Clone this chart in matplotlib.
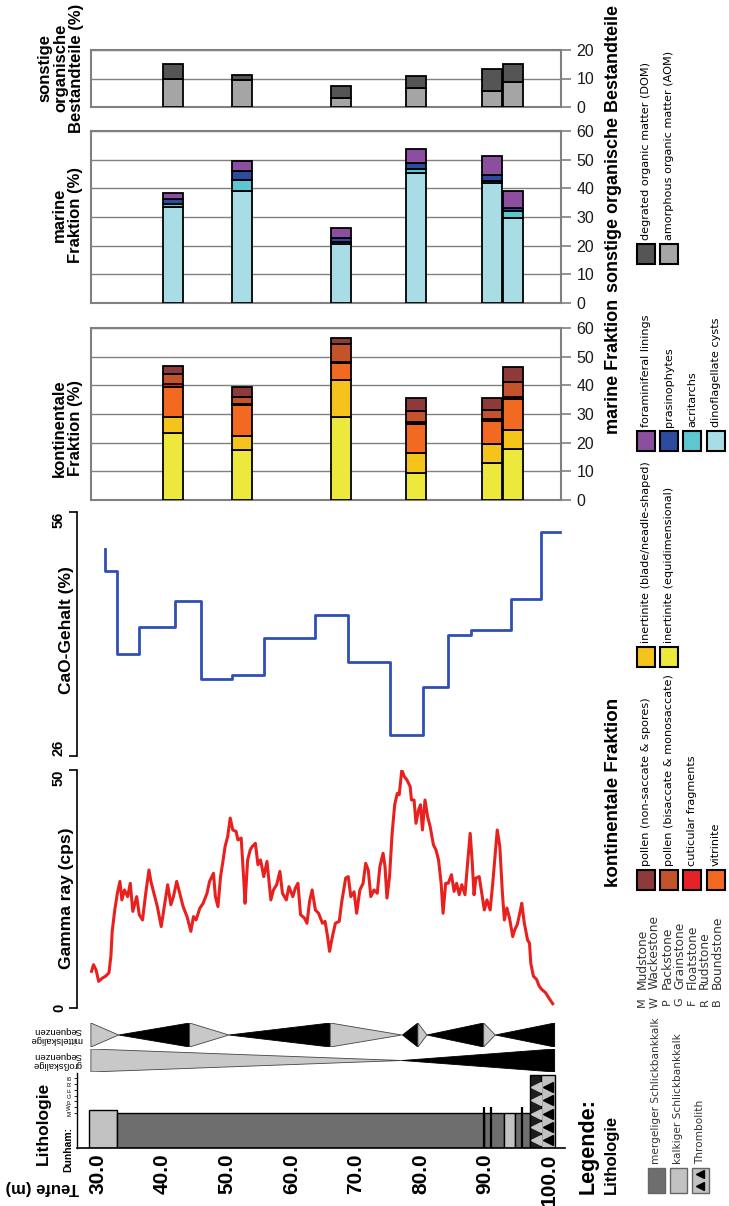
import matplotlib
matplotlib.use('Agg')
import matplotlib.pyplot as plt
import numpy as np
from matplotlib.patches import Rectangle, Polygon

# ---------------- data ----------------
sample_depth = [41.6, 52.3, 67.6, 79.3, 91.1, 94.4]

kont_names = ['inertinite (equidimensional)', 'inertinite (blade/neadle-shaped)', 'vitrinite',
              'cuticular fragments', 'pollen (bisaccate & monosaccate)', 'pollen (non-saccate & spores)']
inert_equi  = [23.3, 17.5, 29.1, 9.5, 12.8, 17.7]
inert_blade = [5.8, 5.0, 12.8, 7.0, 6.6, 6.7]
vitrinite   = [10.2, 10.5, 5.8, 10.0, 8.2, 10.8]
cuticular   = [1.0, 0.5, 0.6, 0.7, 0.6, 0.6]
pollen_bis  = [3.8, 2.6, 6.0, 3.8, 3.2, 5.5]
pollen_non  = [2.7, 3.2, 2.1, 4.5, 4.1, 5.0]

marine_names = ['dinoflagellate cysts', 'acritarchs', 'prasinophytes', 'foraminiferal linings']
dino    = [33.4, 39.2, 20.5, 45.2, 41.8, 29.8]
acrit   = [1.0, 3.7, 0.7, 1.5, 0.9, 2.2]
prasino = [1.8, 3.3, 1.6, 2.3, 2.0, 1.1]
foram   = [2.1, 3.5, 3.5, 4.7, 6.7, 5.8]

other_names = ['amorphous organic matter (AOM)', 'degrated organic matter (DOM)']
aom = [10.0, 9.4, 3.2, 6.7, 5.6, 8.7]
dom = [5.1, 1.9, 4.1, 4.1, 7.6, 6.4]

cao_depth = [31.06, 31.06, 33.0, 36.3, 42.0, 46.0, 50.8, 55.7, 63.7, 68.8, 75.2, 80.4, 84.2, 87.8, 94.0, 98.7, 101.6]
cao_value = [51.4, 48.7, 38.5, 41.8, 45.1, 35.5, 36.0, 40.5, 43.3, 37.6, 28.6, 34.5, 40.9, 41.5, 45.3, 53.6, 53.6]

gamma_depth = [29.0, 29.3, 29.7, 30.1, 30.7, 31.2, 31.7, 32.0, 32.2, 32.6, 33.0, 33.4, 33.7, 34.1, 34.6, 35.0,
               35.4, 36.0, 36.4, 36.9, 37.4, 37.9, 38.2, 38.8, 39.2, 39.8, 40.2, 40.8, 41.3, 41.7, 42.2, 42.8,
               43.2, 43.8, 44.4, 44.8, 45.2, 45.8, 46.3, 46.9, 47.3, 47.9, 48.2, 48.6, 49.0, 49.4, 49.7, 50.1,
               50.5, 50.9, 51.4, 51.7, 52.2, 52.6, 52.8, 53.2, 53.6, 53.9, 54.4, 54.8, 55.2, 55.7, 56.2, 56.8,
               57.2, 57.7, 58.2, 58.6, 59.2, 59.6, 60.2, 60.6, 61.0, 61.4, 62.0, 62.4, 62.8, 63.2, 63.7, 64.2,
               64.8, 65.2, 65.6, 65.9, 66.3, 66.8, 67.4, 67.8, 68.4, 68.8, 69.2, 69.7, 70.1, 70.6, 71.1, 71.5,
               71.9, 72.3, 72.8, 73.3, 73.7, 74.2, 74.5, 74.8, 75.2, 75.6, 76.0, 76.4, 76.7, 77.1, 77.5, 77.9,
               78.4, 78.6, 79.0, 79.3, 79.7, 80.0, 80.3, 80.7, 81.1, 81.5, 82.0, 82.4, 82.8, 83.2, 83.5, 83.9,
               84.3, 84.8, 85.2, 85.6, 86.0, 86.4, 86.9, 87.3, 87.7, 88.0, 88.3, 88.6, 89.1, 89.5, 89.9, 90.3,
               90.8, 91.2, 91.5, 91.9, 92.3, 92.7, 93.0, 93.4, 93.8, 94.3, 94.6, 95.0, 95.5, 95.7, 96.1, 96.6,
               96.9, 97.1, 97.5, 98.0, 98.4, 98.8, 99.4, 99.9, 100.5]
gamma_cps = [7.7, 9.1, 8.0, 5.6, 6.3, 6.7, 7.4, 10.9, 16.1, 20.6, 24.1, 26.6, 22.7, 24.8, 23.4, 26.2,
             20.3, 23.4, 19.6, 18.5, 24.1, 29.0, 26.6, 23.4, 21.3, 17.1, 20.6, 25.9, 21.7, 23.4, 26.6, 23.4,
             21.3, 19.2, 16.1, 19.2, 18.5, 21.0, 22.0, 24.1, 26.6, 28.3, 23.4, 21.3, 27.6, 31.1, 33.9, 36.0,
             39.9, 37.4, 37.1, 35.3, 35.7, 26.9, 22.0, 31.1, 33.2, 33.9, 34.6, 30.1, 31.1, 27.6, 30.8, 22.7,
             24.8, 25.9, 28.7, 24.1, 22.7, 25.5, 23.4, 25.2, 26.2, 19.6, 18.9, 17.8, 22.4, 24.8, 20.6, 19.9,
             17.8, 18.2, 15.0, 11.9, 14.7, 17.8, 18.2, 22.4, 27.3, 27.6, 23.4, 24.4, 19.9, 24.8, 26.2, 30.4,
             29.0, 23.4, 24.8, 24.1, 29.7, 32.5, 29.7, 23.1, 27.6, 36.7, 42.7, 45.1, 44.8, 50.0, 48.6, 47.9,
             46.5, 43.7, 43.7, 38.8, 41.6, 42.7, 37.4, 43.7, 40.2, 38.1, 34.3, 33.2, 31.1, 26.2, 19.9, 26.2,
             26.2, 28.0, 24.5, 26.2, 23.8, 25.9, 23.8, 30.4, 36.7, 31.1, 23.8, 27.3, 27.6, 24.1, 20.6, 22.7,
             20.6, 26.2, 31.1, 37.4, 33.9, 24.1, 18.5, 21.0, 18.9, 15.0, 16.4, 17.5, 20.6, 22.0, 17.8, 14.3,
             13.6, 9.4, 6.7, 6.0, 4.6, 3.9, 3.2, 2.1, 0.9]

# lithology beds (top depth, base depth, type, Dunham texture level)
bed_top = [28.6, 33.0, 89.8, 92.9, 94.7, 97.0, 98.7]
bed_base = [33.0, 89.8, 92.9, 94.7, 97.0, 98.7, 100.8]
bed_type = ['kalkig', 'mergelig', 'mergelig', 'kalkig', 'mergelig', 'thrombolith_d', 'thrombolith']
bed_level = [6.6, 6.0, 6.0, 6.0, 6.0, 12.5, 12.5]
thin_bed_depth = [89.8, 90.9, 95.7]
thin_bed_level = 7.0
dunham_codes = ['M', 'W', 'P', 'G', 'F', 'R', 'B']
dunham_names = ['Mudstone', 'Wackestone', 'Packstone', 'Grainstone', 'Floatstone', 'Rudstone', 'Boundstone']

# sequences: (depth of full side, depth of apex, colour)
seq_mid_full = [28.9, 44.2, 44.2, 66.0, 66.0, 79.6, 79.6, 89.8, 89.8, 100.8]
seq_mid_apex = [33.2, 33.2, 50.3, 50.3, 77.1, 77.2, 81.0, 81.0, 91.6, 91.6]
seq_mid_col = ['light', 'dark', 'light', 'dark', 'light', 'dark', 'light', 'dark', 'light', 'dark']
seq_big_full = [28.9, 100.8]
seq_big_apex = [77.1, 77.1]
seq_big_col = ['light', 'dark']

depth_ticks = [30, 40, 50, 60, 70, 80, 90, 100]

# ---------------- styling ----------------
kont_colors = ['#ECE83C', '#F4C41C', '#F26A22', '#E62229', '#C4532B', '#8E3A3A']
marine_colors = ['#A9DDE5', '#5EC6D0', '#2D4C9F', '#8C4E9F']
other_colors = ['#A5A5A5', '#555555']
lith_colors = {'mergelig': '#6E6E6E', 'kalkig': '#C2C2C2', 'thrombolith': '#C2C2C2', 'thrombolith_d': '#1E1E1E'}
seq_colors = {'light': '#C8C8C8', 'dark': '#000000'}

plt.rcParams['font.family'] = ['Liberation Sans', 'DejaVu Sans']
LEGFONT = ['DejaVu Sans']

W, H = 729, 1206
fig = plt.figure(figsize=(W / 100, H / 100), dpi=100)
PXM = 6.45


def d_at(px):
    return 30 + (px - 98) / PXM


def ax_px(x0, y0, x1, y1):
    return fig.add_axes([x0 / W, 1 - y1 / H, (x1 - x0) / W, (y1 - y0) / H])


def fx(x):
    return x / W


def fy(y):
    return 1 - y / H


BAR_W = 20 / PXM


def bar_panel(y0, y1, ymax, series, colors):
    ax = ax_px(91, y0, 561, y1)
    ax.set_xlim(d_at(91), d_at(561))
    ax.set_ylim(0, ymax)
    ax.set_yticks(range(0, ymax + 1, 10))
    ax.yaxis.tick_right()
    ax.tick_params(axis='y', direction='out', length=7, width=1.2, color='#808080',
                   labelsize=11.5, pad=4, labelcolor='#1a1a1a')
    ax.set_xticks([])
    for s in ax.spines.values():
        s.set_color('#808080')
        s.set_linewidth(1.5)
    ax.grid(axis='y', color='#808080', lw=1)
    ax.set_axisbelow(True)
    bottom = np.zeros(len(sample_depth))
    for vals, c in zip(series, colors):
        ax.bar(sample_depth, vals, width=BAR_W, bottom=bottom, color=c,
               edgecolor='black', linewidth=1.3, zorder=3)
        bottom += np.array(vals)
    return ax


bar_panel(50, 107, 20, [aom, dom], other_colors)
bar_panel(131, 303, 60, [dino, acrit, prasino, foram], marine_colors)
bar_panel(328, 500, 60, [inert_equi, inert_blade, vitrinite, cuticular, pollen_bis, pollen_non], kont_colors)

XL = (d_at(77), d_at(565))


def curve_axes(y0, y1, ylim, ticks, valign):
    ax = ax_px(77, y0, 565, y1)
    ax.set_xlim(*XL)
    ax.set_ylim(*ylim)
    ax.patch.set_alpha(0)
    for k in ['top', 'right', 'bottom']:
        ax.spines[k].set_visible(False)
    ax.spines['left'].set_linewidth(1.2)
    ax.set_xticks([])
    ax.set_yticks(ticks)
    labs = ax.set_yticklabels([str(t) for t in ticks], rotation=90,
                              fontsize=10.5, fontweight='bold')
    for lab, va in zip(labs, valign):
        lab.set_va(va)
    ax.tick_params(axis='y', direction='out', length=6, width=1.2, pad=2)
    return ax


ax_cao = curve_axes(512, 756, (26, 56), [26, 56], ['bottom', 'top'])
ax_cao.plot(cao_depth, cao_value, drawstyle='steps-post', color='#2F50B2', lw=2.0)

ax_gr = curve_axes(770, 1008, (0, 50), [0, 50], ['center', 'top'])
ax_gr.plot(gamma_depth, gamma_cps, color='#E8211F', lw=2.2)

# sequences
for (y0, y1, full, apex, col) in [(1023, 1047, seq_mid_full, seq_mid_apex, seq_mid_col),
                                  (1049, 1072, seq_big_full, seq_big_apex, seq_big_col)]:
    ax = ax_px(77, y0, 565, y1)
    ax.set_xlim(*XL)
    ax.set_ylim(-1, 1)
    ax.axis('off')
    for f, a, c in zip(full, apex, col):
        ax.add_patch(Polygon([(f, -1), (f, 1), (a, 0)], closed=True, facecolor=seq_colors[c],
                             edgecolor='#444444' if c == 'light' else 'black', lw=0.6))

# lithology
ax_l = ax_px(77, 1073, 565, 1148)
ax_l.set_xlim(*XL)
ax_l.set_ylim(0, 12.9)
ax_l.patch.set_alpha(0)
for k in ['top', 'right']:
    ax_l.spines[k].set_visible(False)
ax_l.spines['left'].set_linewidth(1.0)
ax_l.spines['bottom'].set_linewidth(1.2)
widths = [b - t for t, b in zip(bed_top, bed_base)]
ax_l.bar(bed_top, bed_level, width=widths, align='edge',
         color=[lith_colors[t] for t in bed_type], edgecolor='black', linewidth=1.0)
ax_l.vlines(thin_bed_depth, 0, thin_bed_level, color='black', lw=1.6)
for t, b, ty, lv in zip(bed_top, bed_base, bed_type, bed_level):
    if ty.startswith('thrombolith'):
        mc = '#C8C8C8' if ty == 'thrombolith_d' else 'black'
        rows = np.arange(1.3, lv - 0.5, 2.3)
        ax_l.plot([(t + b) / 2] * len(rows), rows, ls='none', marker='<', ms=6.5, color=mc)
ax_l.set_yticks(range(6, 13))
ax_l.set_yticklabels(dunham_codes, rotation=90, va='center', fontsize=4.5)
ax_l.tick_params(axis='y', direction='out', length=2.5, width=0.6, pad=1)
ax_l.set_xticks(depth_ticks)
ax_l.set_xticklabels([f'{d:.1f}' for d in depth_ticks], rotation=90, fontsize=15, fontweight='bold')
ax_l.tick_params(axis='x', length=0, pad=4)

# axis titles
fig.text(fx(61), fy(68), 'sonstige\norganische\nBestandteile (%)', rotation=90, ha='center', va='center',
         fontsize=12, fontweight='bold', linespacing=1.05)
fig.text(fx(67), fy(215), 'marine\nFraktion (%)', rotation=90, ha='center', va='center',
         fontsize=12, fontweight='bold', linespacing=1.1)
fig.text(fx(67), fy(428), 'kontinentale\nFraktion (%)', rotation=90, ha='center', va='center',
         fontsize=12, fontweight='bold', linespacing=1.1)
fig.text(fx(67), fy(630), 'CaO-Gehalt (%)', rotation=90, ha='center', va='center',
         fontsize=12.5, fontweight='bold')
fig.text(fx(67), fy(898), 'Gamma ray (cps)', rotation=90, ha='center', va='center',
         fontsize=12.5, fontweight='bold')
fig.text(fx(82), fy(1035), 'mittelskalige\nSequenzen', rotation=180, ha='right', va='center',
         fontsize=6.8, multialignment='left', linespacing=0.95)
fig.text(fx(82), fy(1060), 'großskalige\nSequenzen', rotation=180, ha='right', va='center',
         fontsize=6.8, multialignment='left', linespacing=0.95)
fig.text(fx(43), fy(1165), 'Lithologie', rotation=90, ha='center', va='bottom',
         fontsize=12.5, fontweight='bold')
fig.text(fx(68), fy(1172), 'Dunham:', rotation=90, ha='center', va='bottom',
         fontsize=7.5, fontweight='bold')
fig.text(fx(42), fy(1188), 'Teufe (m)', rotation=180, ha='center', va='center',
         fontsize=12, fontweight='bold')


# legend helpers
def lsquare(cx, cy, w, h, color, edge='black', lw=1.5):
    fig.add_artist(Rectangle((fx(cx - w / 2), fy(cy + h / 2)), w / W, h / H, transform=fig.transFigure,
                             facecolor=color, edgecolor=edge, lw=lw))


def ltext(cx, ybot, s, size=8.1, family=None, **kw):
    fig.text(fx(cx), fy(ybot), s, rotation=90, ha='center', va='bottom', fontsize=size,
             family=family if family else LEGFONT, **kw)


COLX = [646, 669, 692, 716]
TX = 613
TFONT = ['Liberation Sans', 'DejaVu Sans']

ltext(TX, 292, 'sonstige organische Bestandteile', 13, family=TFONT, fontweight='bold')
for i, (n, c) in enumerate(zip(other_names[::-1], other_colors[::-1])):
    lsquare(COLX[i], 254, 18, 20, c)
    ltext(COLX[i], 240, n)

ltext(TX, 434, 'marine Fraktion', 13, family=TFONT, fontweight='bold')
for i, (n, c) in enumerate(zip(marine_names[::-1], marine_colors[::-1])):
    lsquare(COLX[i], 441, 18, 20, c)
    ltext(COLX[i], 427, n)

ltext(TX, 887, 'kontinentale Fraktion', 13.5, family=TFONT, fontweight='bold')
for i, (n, c) in enumerate(zip(kont_names[2:][::-1], kont_colors[2:][::-1])):
    lsquare(COLX[i], 880, 18, 20, c)
    ltext(COLX[i], 866, n)
for i, (n, c) in enumerate(zip(kont_names[:2][::-1], kont_colors[:2][::-1])):
    lsquare(COLX[i], 657, 18, 20, c)
    ltext(COLX[i], 643, n)

# Dunham legend
for i, (code, name) in enumerate(zip(dunham_codes, dunham_names)):
    x = 642 + 12.5 * i
    fig.text(fx(x), fy(1002), code, rotation=90, ha='center', va='center', fontsize=8,
             color='#333333', family=LEGFONT)
    ltext(x, 989, name, 8.8, color='#333333')

# Lithology legend
ltext(588, 1194, 'Legende:', 15.5, family=TFONT, fontweight='bold')
ltext(611, 1194, 'Lithologie', 12, family=TFONT, fontweight='bold')
lith_leg_names = ['mergeliger Schlickbankkalk', 'kalkiger Schlickbankkalk', 'Thrombolith']
lith_leg_types = ['mergelig', 'kalkig', 'thrombolith']
for i, (n, t) in enumerate(zip(lith_leg_names, lith_leg_types)):
    cx = 656 + 22 * i
    lsquare(cx, 1180, 17, 25, lith_colors[t], edge='#666666', lw=1.0)
    ltext(cx, 1164, n, 7.6, color='#333333')
    if t == 'thrombolith':
        fig.lines.append(plt.Line2D([fx(cx), fx(cx)], [fy(1174), fy(1186)], transform=fig.transFigure,
                                    ls='none', marker='<', ms=6, color='black'))

fig.savefig('out.png', dpi=100)
